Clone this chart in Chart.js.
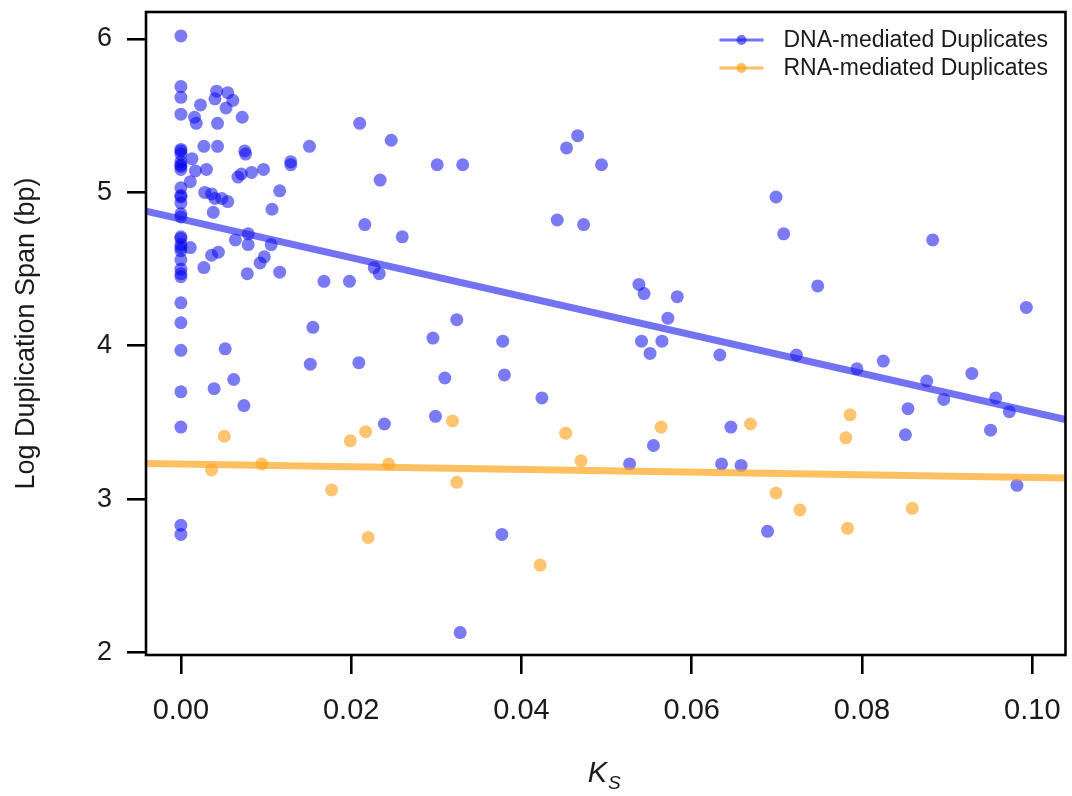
<!DOCTYPE html>
<html>
<head>
<meta charset="utf-8">
<script src="https://cdn.jsdelivr.net/npm/chart.js@4.4.1/dist/chart.umd.min.js"></script>
<style>
  body { margin: 0; background: #fff; }
  #wrap { width: 1072px; height: 796px; position: relative; }
</style>
</head>
<body>
<div id="wrap"><canvas id="ksChart"></canvas></div>
<script>
// DNA-mediated duplicates (Ks, log span)
let dnaKs = [
    0, 0, 0, 0, 0, 0, 0, 0, 0, 0, 0, 0, 0, 0, 0, 0, 0, 0, 0, 0, 0, 0, 0, 0, 0,
    0, 0, 0, 0, 0, 0, 0, 0,
    0.0042, 0.0055, 0.0040, 0.0061, 0.0023, 0.0053, 0.0016, 0.0018, 0.0043, 0.0072,
    0.0027, 0.0043, 0.0151, 0.0075, 0.0076, 0.0013, 0.0017, 0.0030, 0.0129, 0.0129,
    0.0097, 0.0083, 0.0071, 0.0067, 0.0011, 0.0116, 0.0028, 0.0036, 0.0040, 0.0048,
    0.0055, 0.0038, 0.0107, 0.0011, 0.0064, 0.0079, 0.0079, 0.0106, 0.0036, 0.0044,
    0.0093, 0.0098, 0.0027, 0.0078, 0.0116, 0.0155, 0.0052, 0.0152, 0.0062, 0.0039,
    0.0074,
    0.0210, 0.0247, 0.0301, 0.0331, 0.0234, 0.0216, 0.0260, 0.0227, 0.0233, 0.0168,
    0.0198, 0.0324, 0.0296, 0.0378, 0.0209, 0.0310, 0.0380, 0.0424, 0.0239, 0.0299,
    0.0377, 0.0328,
    0.0466, 0.0453, 0.0494, 0.0442, 0.0473, 0.0699, 0.0708, 0.0538, 0.0544, 0.0583,
    0.0572, 0.0541, 0.0565, 0.0551, 0.0633, 0.0723, 0.0555, 0.0527, 0.0646, 0.0635,
    0.0658, 0.0689,
    0.0883, 0.0748, 0.0993, 0.0794, 0.0825, 0.0876, 0.0896, 0.0929, 0.0957, 0.0973,
    0.0854, 0.0851, 0.0951, 0.0982
];
let dnaSpan = [
    6.02, 5.69, 5.62, 5.51, 5.28, 5.25, 5.20, 5.17, 5.15, 5.03, 4.97, 4.93, 4.86,
    4.71, 4.66, 4.62, 4.56, 4.45, 4.28, 4.15, 3.97, 3.70, 3.47, 2.83, 2.77,
    5.27, 5.18, 4.98, 4.84, 4.70, 4.64, 4.50, 4.47,
    5.66, 5.65, 5.61, 5.60, 5.57, 5.55, 5.49, 5.45, 5.45, 5.49,
    5.30, 5.30, 5.30, 5.27, 5.25, 5.22, 5.14, 5.15, 5.20, 5.18,
    5.15, 5.13, 5.12, 5.10, 5.07, 5.01, 5.00, 4.99, 4.96, 4.96,
    4.94, 4.87, 4.89, 4.64, 4.69, 4.73, 4.66, 4.66, 4.59, 4.61,
    4.54, 4.58, 4.51, 4.47, 4.48, 4.12, 3.98, 3.88, 3.78, 3.72,
    3.61,
    5.45, 5.34, 5.18, 5.18, 5.08, 4.79, 4.71, 4.51, 4.47, 4.42,
    4.42, 4.17, 4.05, 4.03, 3.89, 3.79, 3.81, 3.66, 3.49, 3.54,
    2.77, 2.13,
    5.37, 5.29, 5.18, 4.82, 4.79, 4.97, 4.73, 4.40, 4.34, 4.32,
    4.18, 4.03, 4.03, 3.95, 3.94, 3.94, 3.35, 3.23, 3.47, 3.23,
    3.22, 2.79,
    4.69, 4.39, 4.25, 3.85, 3.90, 3.77, 3.65, 3.82, 3.66, 3.57,
    3.59, 3.42, 3.45, 3.09
];

// RNA-mediated duplicates
let rnaKs = [
    0.0051, 0.0036, 0.0095, 0.0319, 0.0199, 0.0217, 0.0244, 0.0177, 0.0324, 0.0220,
    0.0422, 0.0452, 0.0470, 0.0564, 0.0669, 0.0699, 0.0727, 0.0786, 0.0781, 0.0783,
    0.0859
];
let rnaSpan = [
    3.41, 3.19, 3.23, 3.51, 3.38, 3.44, 3.23, 3.06, 3.11, 2.75,
    2.57, 3.43, 3.25, 3.47, 3.49, 3.04, 2.93, 3.55, 3.40, 2.81,
    2.94
];

// fitted lines, end points at the plot edges
let fitKs = [-0.0041, 0.1039];
let dnaFit = [4.878, 3.519];
let rnaFit = [3.232, 3.138];

let xTickValues = [0, 0.02, 0.04, 0.06, 0.08, 0.10];
let yTickValues = [2, 3, 4, 5, 6];

const BLUE_PT = 'rgba(0, 0, 235, 0.52)';
const ORANGE_PT = 'rgba(255, 160, 25, 0.62)';
const FONT = "'Liberation Sans', Arial, sans-serif";

function toPoints(xs, ys) {
    return xs.map((x, i) => ({ x: x, y: ys[i] }));
}

// legend drawn inside the plot, top right, plus the box and the Ks title
const framePlugin = {
    id: 'framePlugin',
    afterDraw(chart) {
        const ctx = chart.ctx;
        const a = chart.chartArea;
        ctx.save();
        ctx.strokeStyle = '#000';
        ctx.lineWidth = 2.6;
        ctx.strokeRect(a.left, a.top, a.right - a.left, a.bottom - a.top);

        const rows = [
            { label: 'DNA-mediated Duplicates', ds: chart.data.datasets[2], y: a.top + 28 },
            { label: 'RNA-mediated Duplicates', ds: chart.data.datasets[3], y: a.top + 56 }
        ];
        rows.forEach(function (row) {
            ctx.strokeStyle = row.ds.borderColor;
            ctx.lineWidth = 3;
            ctx.beginPath();
            ctx.moveTo(a.right - 346, row.y);
            ctx.lineTo(a.right - 302, row.y);
            ctx.stroke();
            ctx.fillStyle = row.ds.borderColor;
            ctx.beginPath();
            ctx.arc(a.right - 324, row.y, 5, 0, Math.PI * 2);
            ctx.fill();
            ctx.fillStyle = '#1a1a1a';
            ctx.font = '23px ' + FONT;
            ctx.textAlign = 'left';
            ctx.textBaseline = 'middle';
            ctx.fillText(row.label, a.right - 282, row.y + 1);
        });

        // x axis title: italic K with subscript S
        const cx = (a.left + a.right) / 2 - 10;
        ctx.fillStyle = '#1a1a1a';
        ctx.textBaseline = 'alphabetic';
        ctx.font = 'italic 29px ' + FONT;
        ctx.textAlign = 'left';
        const kw = ctx.measureText('K').width;
        ctx.fillText('K', cx - 8, 782);
        ctx.font = 'italic 19px ' + FONT;
        ctx.fillText('S', cx - 8 + kw + 1, 789);
        ctx.restore();
    }
};

function noEdgePadding(scale) {
    scale.paddingTop = 0;
    scale.paddingBottom = 0;
    scale.paddingLeft = 0;
    scale.paddingRight = 0;
}

const ctx = document.getElementById('ksChart').getContext('2d');
const ksChart = new Chart(ctx, {
    type: 'scatter',
    data: {
        datasets: [
            {
                label: 'DNA-mediated Duplicates',
                data: toPoints(dnaKs, dnaSpan),
                backgroundColor: BLUE_PT,
                borderWidth: 0,
                pointRadius: 6.5,
                order: 2
            },
            {
                label: 'RNA-mediated Duplicates',
                data: toPoints(rnaKs, rnaSpan),
                backgroundColor: ORANGE_PT,
                borderWidth: 0,
                pointRadius: 6.5,
                order: 2
            },
            {
                label: 'DNA fit',
                data: toPoints(fitKs, dnaFit),
                showLine: true,
                borderColor: 'rgba(20, 20, 235, 0.6)',
                borderWidth: 7,
                pointRadius: 0,
                order: 1
            },
            {
                label: 'RNA fit',
                data: toPoints(fitKs, rnaFit),
                showLine: true,
                borderColor: 'rgba(255, 165, 30, 0.7)',
                borderWidth: 7,
                pointRadius: 0,
                order: 1
            }
        ]
    },
    options: {
        responsive: true,
        maintainAspectRatio: false,
        animation: false,
        events: [],
        layout: {
            padding: { top: 12, right: 5, left: 0, bottom: 0 }
        },
        scales: {
            x: {
                type: 'linear',
                min: fitKs[0],
                max: fitKs[1],
                afterBuildTicks: function (scale) {
                    scale.ticks = xTickValues.map(v => ({ value: v }));
                },
                afterFit: function (scale) {
                    scale.height = 141;
                    noEdgePadding(scale);
                },
                border: { display: false },
                grid: {
                    drawOnChartArea: false,
                    drawTicks: true,
                    tickLength: 19,
                    color: '#000',
                    lineWidth: 2.6
                },
                ticks: {
                    padding: 20,
                    color: '#1a1a1a',
                    font: { family: FONT, size: 29 },
                    maxRotation: 0,
                    callback: function (value) {
                        return value.toFixed(2);
                    }
                }
            },
            y: {
                type: 'linear',
                min: 1.984,
                max: 6.176,
                afterBuildTicks: function (scale) {
                    scale.ticks = yTickValues.map(v => ({ value: v }));
                },
                afterFit: function (scale) {
                    scale.width = 146;
                    noEdgePadding(scale);
                },
                border: { display: false },
                grid: {
                    drawOnChartArea: false,
                    drawTicks: true,
                    tickLength: 19,
                    color: '#000',
                    lineWidth: 2.6
                },
                ticks: {
                    padding: 15,
                    color: '#1a1a1a',
                    font: { family: FONT, size: 27 }
                },
                title: {
                    display: true,
                    text: 'Log Duplication Span (bp)',
                    color: '#1a1a1a',
                    font: { family: FONT, size: 27 },
                    padding: { top: 10, bottom: 0 }
                }
            }
        },
        plugins: {
            legend: { display: false },
            tooltip: { enabled: false }
        }
    },
    plugins: [framePlugin]
});
</script>
</body>
</html>
